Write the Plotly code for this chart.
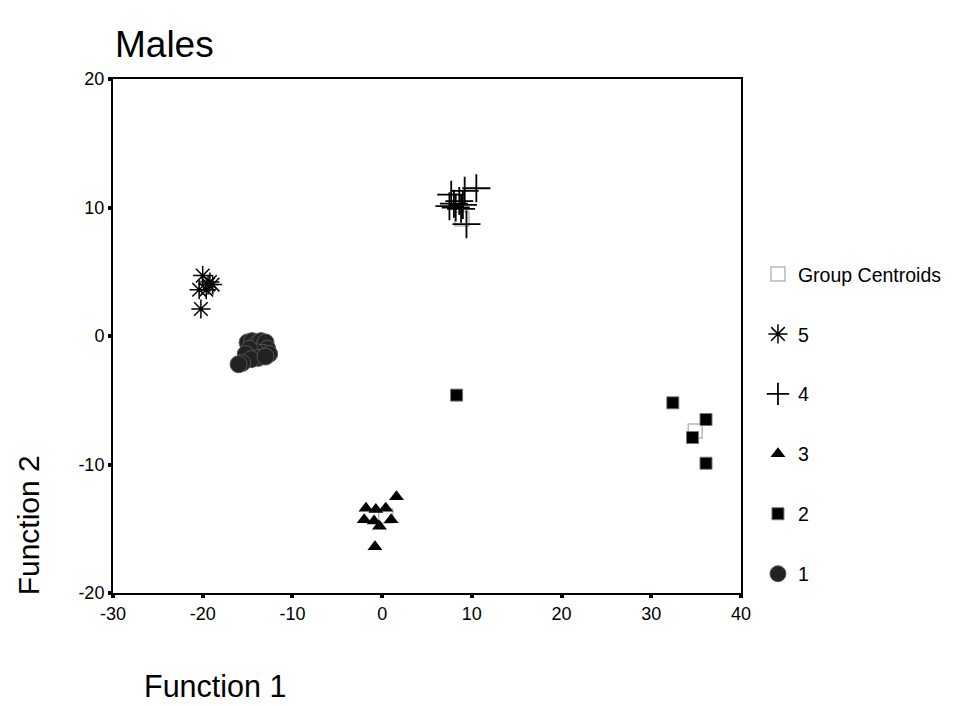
import plotly.graph_objects as go

# Discriminant scores (Function 1, Function 2) by group
g1_x = [-15.0, -14.5, -14.0, -13.5, -13.0, -12.8, -13.3, -14.2, -14.8, -15.2, -13.8, -14.6, -15.6, -16.0, -12.6, -13.0]
g1_y = [-0.5, -0.4, -0.6, -0.4, -0.5, -1.0, -1.3, -1.2, -1.0, -1.4, -1.7, -1.8, -2.1, -2.2, -1.4, -1.6]
g2_x = [8.3, 32.4, 36.1, 34.6, 36.1]
g2_y = [-4.6, -5.2, -6.5, -7.9, -9.9]
g3_x = [1.6, -1.8, -0.7, 0.4, -2.0, -0.9, 1.0, -0.3, -0.8]
g3_y = [-12.5, -13.4, -13.5, -13.4, -14.3, -14.4, -14.3, -14.8, -16.4]
g4_x = [7.7, 9.2, 10.5, 9.4, 8.2, 7.5, 8.8, 8.6, 8.0, 9.0]
g4_y = [11.0, 11.3, 11.5, 8.7, 10.0, 10.1, 9.9, 10.5, 10.3, 10.2]
g5_x = [-20.0, -20.4, -19.4, -18.9, -19.2, -20.2, -19.6]
g5_y = [4.7, 3.6, 4.0, 4.0, 4.2, 2.1, 3.6]
centroid_x = [-14.2, 34.9, 0.4, 8.9, -19.6]
centroid_y = [-1.2, -7.4, -14.0, 9.1, 3.8]

x_ticks = [-30, -20, -10, 0, 10, 20, 30, 40]
x_labels = ["-30", "-20", "-10", "0", "10", "20", "30", "40"]
y_ticks = [-20, -10, 0, 10, 20]
y_labels = ["-20", "-10", "0", "10", "20"]

FONT = "Liberation Sans, Arial, sans-serif"

fig = go.Figure()

fig.add_trace(go.Scatter(
    x=centroid_x, y=centroid_y, mode="markers", name="Group Centroids",
    legendrank=1, legendgroup="c",
    marker=dict(symbol="square-open", size=14, color="#b8b8b8", line=dict(width=1.5, color="#b8b8b8")),
))
fig.add_trace(go.Scatter(
    x=g5_x, y=g5_y, mode="markers", name="5", legendrank=2, legendgroup="5",
    marker=dict(symbol="asterisk-open", size=16, color="black", line=dict(width=1.5, color="black")),
))
fig.add_trace(go.Scatter(
    x=g4_x, y=g4_y, mode="markers", name="4", legendrank=3, legendgroup="4",
    marker=dict(symbol="cross-thin-open", size=20, color="black", line=dict(width=1.8, color="black")),
))
fig.add_trace(go.Scatter(
    x=g3_x, y=g3_y, mode="markers", name="3", legendrank=4, legendgroup="3",
    marker=dict(symbol="triangle-up", size=13, color="black", line=dict(width=0)),
))
fig.add_trace(go.Scatter(
    x=g2_x, y=g2_y, mode="markers", name="2", legendrank=5, legendgroup="2",
    marker=dict(symbol="square", size=12, color="black", line=dict(width=1, color="#777")),
))
fig.add_trace(go.Scatter(
    x=g1_x, y=g1_y, mode="markers", name="1", legendrank=6, legendgroup="1",
    marker=dict(symbol="circle", size=17, color="#222", line=dict(width=1, color="#555")),
))

axis_common = dict(
    showgrid=False, zeroline=False, showline=True, linecolor="black", linewidth=2,
    mirror=True, ticks="outside", ticklen=3, tickwidth=4, tickcolor="black",
    tickfont=dict(family=FONT, size=18, color="black"),
)

fig.update_xaxes(range=[-30, 40], tickvals=x_ticks, ticktext=x_labels, **axis_common)
fig.update_yaxes(range=[-20, 20], tickvals=y_ticks, ticktext=y_labels, **axis_common)

fig.update_layout(
    width=964, height=706,
    margin=dict(l=113, r=223, t=79, b=113),
    paper_bgcolor="white", plot_bgcolor="white",
    font=dict(family=FONT, color="black"),
    showlegend=True,
    legend=dict(
        x=1.027, xanchor="left", y=0.658, yanchor="top",
        font=dict(family=FONT, size=19.5, color="black"),
        tracegroupgap=31.6, traceorder="grouped",
        bgcolor="rgba(0,0,0,0)",
    ),
    annotations=[
        dict(text="Males", xref="paper", yref="paper", x=0.0, y=1.068,
             xanchor="left", yanchor="middle", showarrow=False,
             font=dict(family=FONT, size=37, color="black")),
        dict(text="Function 2", xref="paper", yref="paper", x=-0.135, y=0.132,
             xanchor="center", yanchor="middle", showarrow=False, textangle=-90,
             font=dict(family=FONT, size=30, color="black")),
        dict(text="Function 1", xref="paper", yref="paper", x=0.046, y=-0.181,
             xanchor="left", yanchor="middle", showarrow=False,
             font=dict(family=FONT, size=30.5, color="black")),
    ],
)

fig.write_html("out.html")
